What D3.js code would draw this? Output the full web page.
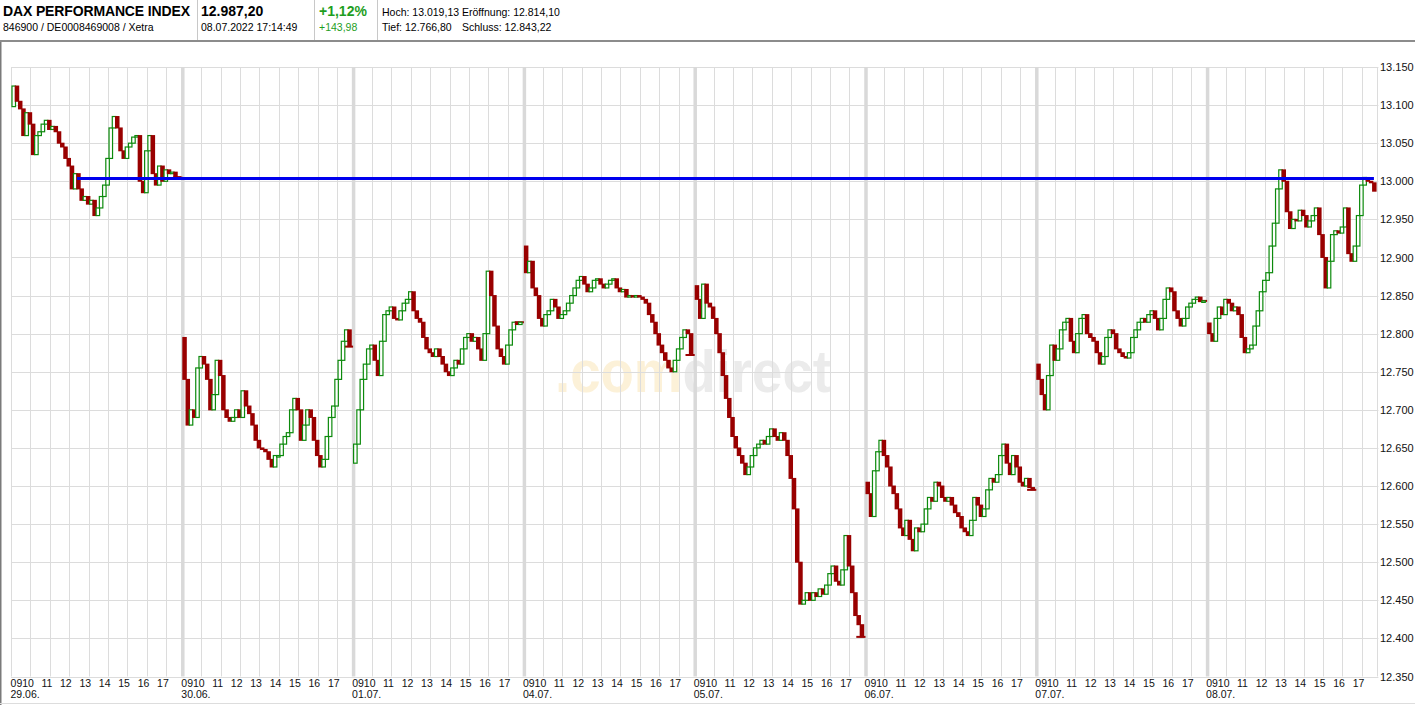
<!DOCTYPE html>
<html><head><meta charset="utf-8">
<script src="https://cdn.jsdelivr.net/npm/d3@7/dist/d3.min.js"></script>
<style>
html,body{margin:0;padding:0;background:#fff;}
svg{display:block;font-family:"Liberation Sans",Arial,sans-serif;}
</style></head>
<body><svg id="chart" width="1415" height="705"></svg>
<script>
// ---------- DATA ----------
const dayLabels = ["29.06.","30.06.","01.07.","04.07.","05.07.","06.07.","07.07.","08.07."];
const hourLabels = ["0910","11","12","13","14","15","16","17"];
const yTicks = [13150,13100,13050,13000,12950,12900,12850,12800,12750,12700,12650,12600,12550,12500,12450,12400,12350];
// opening price of the first 10-minute candle of each session
const dayOpens = [13098,12795,12630,12915,12863,12605,12760,12814];
// 10-minute closes, 09:00 .. 17:30
const closes_29_06 = [13125,13105,13095,13060,13090,13075,13035,13060,13065,13075,13080,13068,13072,13065,13050,13045,13030,13020,12990,13010,12990,12975,12980,12970,12975,12955,12965,12980,12995,13030,13070,13085,13070,13040,13030,13045,13050,13058,13060,13000,12985,13040,13060,13010,12995,13020,13000,13015,13010,13012,13006,13005];
const closes_30_06 = [12740,12680,12700,12690,12755,12770,12760,12740,12700,12720,12765,12745,12700,12690,12685,12690,12700,12690,12725,12705,12695,12680,12660,12650,12648,12645,12635,12625,12640,12640,12655,12665,12670,12700,12715,12700,12660,12680,12700,12690,12660,12640,12625,12635,12665,12690,12705,12740,12765,12790,12805,12783];
const closes_01_07 = [12655,12700,12740,12760,12780,12785,12765,12745,12790,12825,12830,12835,12820,12818,12830,12840,12845,12855,12830,12820,12815,12795,12780,12775,12770,12780,12770,12760,12750,12745,12755,12765,12760,12780,12795,12800,12790,12795,12780,12765,12800,12882,12850,12810,12780,12770,12760,12785,12805,12815,12812,12815];
const closes_04_07 = [12880,12895,12860,12850,12820,12810,12825,12830,12845,12835,12820,12825,12830,12840,12850,12860,12870,12875,12865,12855,12860,12870,12872,12865,12860,12865,12870,12872,12860,12855,12858,12848,12850,12848,12850,12848,12845,12840,12825,12815,12800,12785,12775,12765,12755,12750,12765,12780,12795,12805,12800,12772];
const closes_05_07 = [12845,12820,12865,12840,12835,12820,12800,12775,12745,12715,12690,12665,12650,12640,12630,12615,12625,12640,12650,12655,12660,12655,12665,12675,12665,12660,12670,12660,12640,12610,12570,12500,12445,12450,12460,12450,12460,12455,12465,12458,12470,12485,12495,12475,12470,12490,12535,12495,12460,12430,12418,12402];
const closes_06_07 = [12590,12560,12620,12645,12660,12640,12625,12600,12590,12570,12545,12535,12555,12530,12515,12545,12540,12550,12570,12585,12580,12605,12600,12585,12580,12585,12575,12565,12560,12545,12540,12535,12555,12585,12575,12560,12570,12595,12610,12605,12615,12640,12655,12630,12615,12640,12625,12605,12600,12610,12598,12595];
const closes_07_07 = [12740,12720,12700,12745,12785,12765,12780,12805,12815,12820,12790,12775,12800,12820,12825,12800,12795,12790,12775,12760,12770,12795,12805,12800,12780,12775,12770,12768,12775,12795,12805,12815,12820,12815,12825,12830,12820,12805,12820,12845,12860,12855,12830,12820,12810,12820,12835,12840,12845,12848,12842,12843];
const closes_08_07 = [12800,12790,12820,12835,12825,12845,12840,12830,12835,12825,12795,12775,12780,12785,12810,12830,12855,12870,12880,12915,12945,12990,13015,13000,12960,12938,12950,12948,12962,12955,12940,12948,12955,12965,12930,12900,12860,12895,12930,12935,12932,12940,12965,12905,12895,12915,12955,12995,13005,13000,12998,12987];
const sessions = [closes_29_06,closes_30_06,closes_01_07,closes_04_07,closes_05_07,closes_06_07,closes_07_07,closes_08_07];
// horizontal resistance line: value, start (day, hour after 09:00), end (day, hour)
const resistance = {value: 13003.7, from: [0, 3.35], to: [7, 8.57]};
// header
const title = "DAX PERFORMANCE INDEX", subTitle = "846900 / DE0008469008 / Xetra";
const lastPrice = "12.987,20", lastTime = "08.07.2022 17:14:49";
const changePct = "+1,12%", changeAbs = "+143,98";
const statsRow1 = ["Hoch: 13.019,13","Eröffnung: 12.814,10"];
const statsRow2 = ["Tief: 12.766,80","Schluss: 12.843,22"];

// ---------- SCALES ----------
const DAY = 8.8; // session length in axis hours (09:00 .. ~17:48)
const svg = d3.select("#chart");
const x = d3.scaleLinear().domain([0, DAY*dayLabels.length]).range([12, 1378.4]);
const y = d3.scaleLinear().domain([12350, 13150]).range([676.5, 67]);
const de = d3.formatLocale({decimal:",", thousands:".", grouping:[3], currency:["","€"]});
const fmt = de.format(",.0f");
const STEP = 1/6; // 10 minutes

// ---------- HEADER ----------
svg.append("line").attr("x1",0).attr("x2",1415).attr("y1",41).attr("y2",41).attr("stroke","#8c8c8c").attr("stroke-width",2);
[197,314,377].forEach(sx => svg.append("line").attr("x1",sx+0.5).attr("x2",sx+0.5).attr("y1",0).attr("y2",40).attr("stroke","#c8c8c8"));
const hdr = svg.append("g");
hdr.append("text").attr("x",3).attr("y",16).attr("font-size",14).attr("font-weight","bold").attr("textLength",187).text(title);
hdr.append("text").attr("x",3).attr("y",31).attr("font-size",10.5).text(subTitle);
hdr.append("text").attr("x",201).attr("y",16).attr("font-size",14).attr("font-weight","bold").text(lastPrice);
hdr.append("text").attr("x",201).attr("y",31).attr("font-size",10.5).text(lastTime);
hdr.append("text").attr("x",319).attr("y",16).attr("font-size",14).attr("font-weight","bold").attr("fill","#1e9e1e").text(changePct);
hdr.append("text").attr("x",319).attr("y",31).attr("font-size",10.5).attr("fill","#1e9e1e").text(changeAbs);
hdr.append("text").attr("x",382).attr("y",16).attr("font-size",10.5).text(statsRow1[0]);
hdr.append("text").attr("x",462).attr("y",16).attr("font-size",10.5).text(statsRow1[1]);
hdr.append("text").attr("x",382).attr("y",31).attr("font-size",10.5).text(statsRow2[0]);
hdr.append("text").attr("x",462).attr("y",31).attr("font-size",10.5).text(statsRow2[1]);

// frame
svg.append("line").attr("x1",0.75).attr("x2",0.75).attr("y1",42).attr("y2",705).attr("stroke","#7a7a7a").attr("stroke-width",1.5);
svg.append("line").attr("x1",0).attr("x2",1415).attr("y1",703.5).attr("y2",703.5).attr("stroke","#dddddd");

// ---------- WATERMARK ----------
const wm = svg.append("text").attr("x",555).attr("y",392).attr("font-size",60).attr("font-weight","bold")
  .attr("textLength",276).attr("lengthAdjust","spacingAndGlyphs");
wm.append("tspan").attr("fill","#fcf1d8").text(".com");
wm.append("tspan").attr("fill","#ebebeb").text("direct");

// ---------- GRID ----------
const grid = svg.append("g");
grid.selectAll("line.h").data(yTicks).join("line")
  .attr("x1",x(0)-1).attr("x2",x.range()[1]).attr("y1",d=>Math.round(y(d))+0.5).attr("y2",d=>Math.round(y(d))+0.5)
  .attr("stroke","#dcdcdc");
const hourLines = [];
dayLabels.forEach((d,i)=>{ for(let h=(i===0?0:1); h<=8; h++) hourLines.push(i*DAY+h); });
hourLines.push(DAY*dayLabels.length);
grid.selectAll("line.v").data(hourLines).join("line")
  .attr("x1",d=>Math.round(x(d))-0.5).attr("x2",d=>Math.round(x(d))-0.5).attr("y1",y(13150)).attr("y2",y(12350))
  .attr("stroke","#dcdcdc");
grid.selectAll("line.sep").data(d3.range(1,dayLabels.length)).join("line")
  .attr("x1",d=>x(d*DAY)).attr("x2",d=>x(d*DAY)).attr("y1",y(13150)).attr("y2",y(12350))
  .attr("stroke","#d9d9d9").attr("stroke-width",3.5);

// ---------- AXES ----------
const yAxis = d3.axisRight(y).tickValues(yTicks).tickFormat(fmt).tickSize(0).tickPadding(0);
const ya = svg.append("g").attr("transform",`translate(1380,0)`).call(yAxis);
ya.select(".domain").remove();
ya.selectAll("text").attr("font-size",11).attr("fill","#111").attr("font-family","Liberation Sans, Arial, sans-serif");

const xl = svg.append("g").attr("font-size",10.5).attr("fill","#111");
dayLabels.forEach((lab,i)=>{
  xl.append("text").attr("x",x(i*DAY)-1.5).attr("y",698).text(lab);
  hourLabels.forEach((hl,k)=>{
    const h = k+1;
    xl.append("text").attr("x",x(i*DAY+h)+(k===0?2.5:1.5)).attr("y",687).attr("text-anchor","end").text(hl);
  });
});

// ---------- CANDLES ----------
const candles = [];
sessions.forEach((cl,d)=>{
  cl.forEach((c,i)=>{
    const o = i===0 ? dayOpens[d] : cl[i-1];
    candles.push({t: d*DAY + i*STEP, o, c});
  });
});
const UP = "#0c8a0c", DOWN = "#990000";
const cg = svg.append("g");
// after-close flat lines
sessions.forEach((cl,d)=>{
  if (d === sessions.length-1) return;
  const v = cl[cl.length-1];
  cg.append("line").attr("x1",x(d*DAY+8.3)).attr("x2",x((d+1)*DAY)-0.5)
    .attr("y1",y(v)).attr("y2",y(v)).attr("stroke",DOWN).attr("stroke-width",2);
});
candles.forEach(k=>{
  const x0 = x(k.t);
  const top = y(Math.max(k.o,k.c)), bot = y(Math.min(k.o,k.c));
  if (k.c >= k.o) {
    cg.append("rect").attr("x",x0).attr("y",top).attr("width",3.5).attr("height",Math.max(bot-top,1.5))
      .attr("fill","#fff").attr("stroke",UP).attr("stroke-width",1.2);
  } else {
    cg.append("rect").attr("x",x0-0.5).attr("y",top-0.5).attr("width",4.5).attr("height",Math.max(bot-top+1,2))
      .attr("fill",DOWN);
  }
});

// ---------- RESISTANCE LINE ----------
svg.append("line")
  .attr("x1",x(resistance.from[0]*DAY+resistance.from[1])).attr("x2",x(resistance.to[0]*DAY+resistance.to[1]))
  .attr("y1",y(resistance.value)).attr("y2",y(resistance.value))
  .attr("stroke","#0000ee").attr("stroke-width",3);
</script></body></html>
